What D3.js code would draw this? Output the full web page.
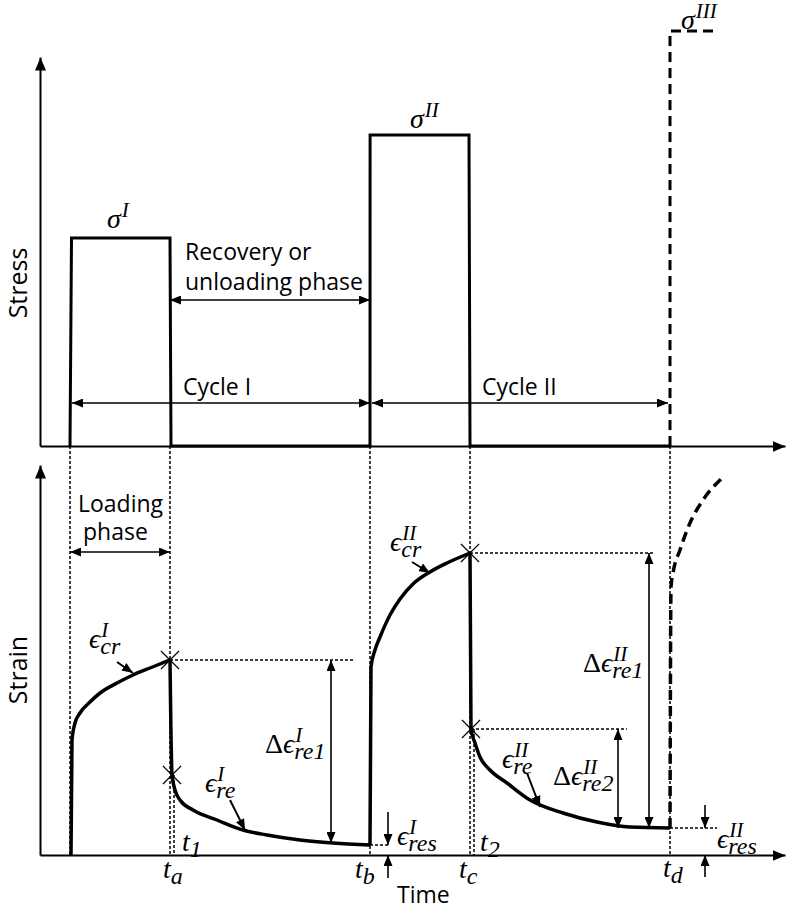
<!DOCTYPE html>
<html>
<head>
<meta charset="utf-8">
<script src="https://cdn.jsdelivr.net/npm/d3@7"></script>
<style>
  body { margin: 0; background: #fff; }
  svg { display: block; }
  .lbl { font-family: "Open Sans", sans-serif; font-size: 23px; fill: #000; }
  .math { font-family: "Liberation Serif", "DejaVu Serif", serif; font-style: italic; fill: #000; }
</style>
</head>
<body>
<div id="chart"></div>
<script>
// time instants of the two cycles (t0, ta, tb, tc, td)
var phaseNames = ["t0", "ta", "tb", "tc", "td"];
var phaseTimes = [0, 1, 3, 4, 6];
var subTimes = [1.04, 4.04];          // t1, t2

// stress levels sigma I, II, III
var stressLevels = [208, 311, 415];

// stress history (solid) and the next cycle (dashed)
var stressTimes  = [0, 0.015, 1.0, 1.01, 3.0, 3.001, 3.99, 4.0, 6.0];
var stressValues = [0, 208, 208, 0, 0, 311, 311, 0, 0];
var stressNextTimes  = [6.0, 6.0, 6.43];
var stressNextValues = [0, 415, 415];

// strain response
var creepITimes  = [0.01, 0.02, 0.05, 0.1, 0.2, 0.3, 0.47, 0.63, 0.8, 1.0];
var creepIValues = [0, 115, 132, 142, 153, 162, 172, 180, 187, 195];
var recovITimes  = [1.0, 1.02, 1.05, 1.10, 1.23, 1.47, 1.73, 1.97, 2.3, 2.63, 3.0];
var recovIValues = [195, 80, 65, 55, 45, 35, 25, 20, 15, 12, 10];
var creepIITimes  = [3.0, 3.01, 3.05, 3.1, 3.2, 3.3, 3.43, 3.6, 3.77, 4.0];
var creepIIValues = [10, 188, 205, 218, 240, 256, 271, 283, 292, 302];
var recovIITimes  = [4.0, 4.01, 4.05, 4.1, 4.2, 4.37, 4.6, 4.93, 5.27, 5.6, 6.0];
var recovIIValues = [302, 126, 112, 98, 85, 72, 55, 42, 33, 28, 27];
var creepIIITimes  = [6.0, 6.01, 6.03, 6.1, 6.2, 6.33, 6.52];
var creepIIIValues = [27, 268, 282, 305, 332, 355, 377];

// characteristic strains
var peakStrains = [195, 302];      // eps_cr I, II
var elasticRecov = [80, 126];      // after instant recovery
var residualStrains = [10, 27];    // eps_res I, II

var W = 786, H = 914;
var svg = d3.select("#chart").append("svg")
    .attr("width", W)
    .attr("height", H);

var x = d3.scaleLinear().domain([-0.3, 7.15]).range([40, 785]);
var yS = d3.scaleLinear().domain([0, 389]).range([446, 57]);
var yE = d3.scaleLinear().domain([0, 390]).range([855, 465]);

// arrow heads
var defs = svg.append("defs");
defs.append("marker")
    .attr("id", "head")
    .attr("markerUnits", "userSpaceOnUse")
    .attr("markerWidth", 11).attr("markerHeight", 9)
    .attr("refX", 11).attr("refY", 4.5)
    .attr("orient", "auto-start-reverse")
  .append("path").attr("d", "M0,0L11,4.5L0,9Z").attr("fill", "#000");
defs.append("marker")
    .attr("id", "axhead")
    .attr("markerUnits", "userSpaceOnUse")
    .attr("markerWidth", 13).attr("markerHeight", 11)
    .attr("refX", 13).attr("refY", 5.5)
    .attr("orient", "auto")
  .append("path").attr("d", "M0,0L13,5.5L0,11Z").attr("fill", "#000");

// axes (no ticks, just the arrows)
svg.append("g").attr("transform", "translate(40,0)")
    .call(d3.axisLeft(yS).tickValues([]).tickSizeOuter(0));
svg.append("g").attr("transform", "translate(0,446)")
    .call(d3.axisBottom(x).tickValues([]).tickSizeOuter(0));
svg.append("g").attr("transform", "translate(40,0)")
    .call(d3.axisLeft(yE).tickValues([]).tickSizeOuter(0));
svg.append("g").attr("transform", "translate(0,855)")
    .call(d3.axisBottom(x).tickValues([]).tickSizeOuter(0));
svg.selectAll(".domain")
    .attr("stroke", "#000")
    .attr("stroke-width", 2)
    .attr("marker-end", "url(#axhead)");

// dotted guides
function dotted(x1, y1, x2, y2) {
  svg.append("line")
      .attr("x1", x1).attr("y1", y1).attr("x2", x2).attr("y2", y2)
      .attr("stroke", "#000").attr("stroke-width", 1.5)
      .attr("stroke-dasharray", "3,2");
}
phaseTimes.forEach(function(t) { dotted(x(t), yS(0), x(t), yE(0)); });
dotted(x(subTimes[0]), yE(elasticRecov[0]), x(subTimes[0]), yE(0));
dotted(x(subTimes[1]), yE(elasticRecov[1]), x(subTimes[1]), yE(0));
dotted(x(phaseTimes[1]), yE(peakStrains[0]), x(2.83), yE(peakStrains[0]));
dotted(x(phaseTimes[2]), yE(residualStrains[0]), x(3.2), yE(residualStrains[0]));
dotted(x(phaseTimes[3]), yE(peakStrains[1]), x(5.85), yE(peakStrains[1]));
dotted(x(4.01), yE(elasticRecov[1]), x(5.57), yE(elasticRecov[1]));
dotted(x(phaseTimes[4]), yE(residualStrains[1]), x(6.47), yE(residualStrains[1]));

// stress history
var lineS = d3.line().x(function(d) { return x(d[0]); }).y(function(d) { return yS(d[1]); });
svg.append("path")
    .attr("d", lineS(d3.zip(stressTimes, stressValues)))
    .attr("fill", "none").attr("stroke", "#000").attr("stroke-width", 3);
svg.append("path")
    .attr("d", lineS(d3.zip(stressNextTimes, stressNextValues)))
    .attr("fill", "none").attr("stroke", "#000").attr("stroke-width", 3)
    .attr("stroke-dasharray", "10,6");

// strain response
var lineE = d3.line().curve(d3.curveMonotoneX)
    .x(function(d) { return x(d[0]); }).y(function(d) { return yE(d[1]); });
[[creepITimes, creepIValues], [recovITimes, recovIValues],
 [creepIITimes, creepIIValues], [recovIITimes, recovIIValues]].forEach(function(s) {
  svg.append("path")
      .attr("d", lineE(d3.zip(s[0], s[1])))
      .attr("fill", "none").attr("stroke", "#000").attr("stroke-width", 3.5);
});
svg.append("path")
    .attr("d", lineE(d3.zip(creepIIITimes, creepIIIValues)))
    .attr("fill", "none").attr("stroke", "#000").attr("stroke-width", 3.5)
    .attr("stroke-dasharray", "10,6");

// crosses
var crossPts = [[1.0, peakStrains[0]], [1.02, elasticRecov[0]], [4.0, peakStrains[1]], [4.01, elasticRecov[1]]];
svg.selectAll(".cross").data(crossPts).enter().append("path")
    .attr("class", "cross")
    .attr("transform", function(d) { return "translate(" + x(d[0]) + "," + yE(d[1]) + ")"; })
    .attr("d", d3.symbol().type(d3.symbolX).size(215))
    .attr("fill", "none").attr("stroke", "#000").attr("stroke-width", 1.2);

// arrows
function arrow(x1, y1, x2, y2, both, w) {
  var l = svg.append("line")
      .attr("x1", x1).attr("y1", y1).attr("x2", x2).attr("y2", y2)
      .attr("stroke", "#000").attr("stroke-width", w || 1.6)
      .attr("marker-end", "url(#head)");
  if (both) l.attr("marker-start", "url(#head)");
}
arrow(x(1), yS(146), x(3), yS(146), true);
arrow(x(0.02), yS(43), x(3), yS(43), true);
arrow(x(3.02), yS(43), x(5.98), yS(43), true);
arrow(x(0), yE(303), x(1), yE(303), true);
arrow(x(2.61), yE(peakStrains[0]), x(2.61), yE(12), true);
arrow(x(5.79), yE(peakStrains[1]), x(5.79), yE(residualStrains[1]), true);
arrow(x(5.48), yE(elasticRecov[1]), x(5.48), yE(residualStrains[1]), true);
arrow(x(3.18), yE(43), x(3.18), yE(residualStrains[0]));
arrow(x(3.18), yE(-23), x(3.18), yE(0));
arrow(x(6.35), yE(50), x(6.35), yE(residualStrains[1]));
arrow(x(6.35), yE(-22), x(6.35), yE(0));
// pointer arrows
arrow(x(0.47), yE(193), x(0.63), yE(182), false, 2);
arrow(x(1.6), yE(55), x(1.75), yE(25), false, 2);
arrow(x(3.42), yE(293), x(3.6), yE(282), false, 2);
arrow(x(4.57), yE(82), x(4.7), yE(48), false, 2);

// plain labels
function label(txt, px, py) {
  svg.append("text").attr("class", "lbl").attr("x", px).attr("y", py).text(txt);
}
label("Recovery or", 185, 260);
label("unloading phase", 185, 290);
label("Cycle I", 183, 395);
label("Cycle II", 482, 395);
label("Loading", 78, 512);
label("phase", 83, 540);
label("Time", 397, 903);
svg.append("text").attr("class", "lbl")
    .attr("transform", "translate(27,283) rotate(-90)")
    .attr("text-anchor", "middle").style("font-size", "25px").text("Stress");
svg.append("text").attr("class", "lbl")
    .attr("transform", "translate(27,670) rotate(-90)")
    .attr("text-anchor", "middle").style("font-size", "25px").text("Strain");

// math labels: base with stacked superscript / subscript, one text each
function math(px, py, base, sup, sub, delta) {
  var t = svg.append("text").attr("class", "math")
      .attr("x", px).attr("y", py).style("font-size", "28px");
  if (delta) t.append("tspan").style("font-style", "normal").text("\u0394");
  t.append("tspan").text(base);
  var w = t.node().getComputedTextLength();
  if (sup) t.append("tspan").attr("x", px + w + 1).attr("y", py - 11)
      .style("font-size", "21px").text(sup);
  if (sub) t.append("tspan").attr("x", px + w).attr("y", py + 6)
      .style("font-size", "24px").text(sub);
}
var eps = "\u03f5", sig = "\u03c3";
math(107, 228, sig, "I");
math(410, 128, sig, "II");
math(681, 29, sig, "III");
math(89, 648, eps, "I", "cr");
math(205, 792, eps, "I", "re");
math(265, 753, eps, "I", "re1", true);
math(397, 845, eps, "I", "res");
math(390, 551, eps, "II", "cr");
math(502, 768, eps, "II", "re");
math(583, 672, eps, "II", "re1", true);
math(553, 785, eps, "II", "re2", true);
math(717, 848, eps, "II", "res");
math(182, 851, "t", null, "1");
math(163, 878, "t", null, "a");
math(355, 878, "t", null, "b");
math(459, 878, "t", null, "c");
math(480, 851, "t", null, "2");
math(663, 877, "t", null, "d");
</script>
</body>
</html>
